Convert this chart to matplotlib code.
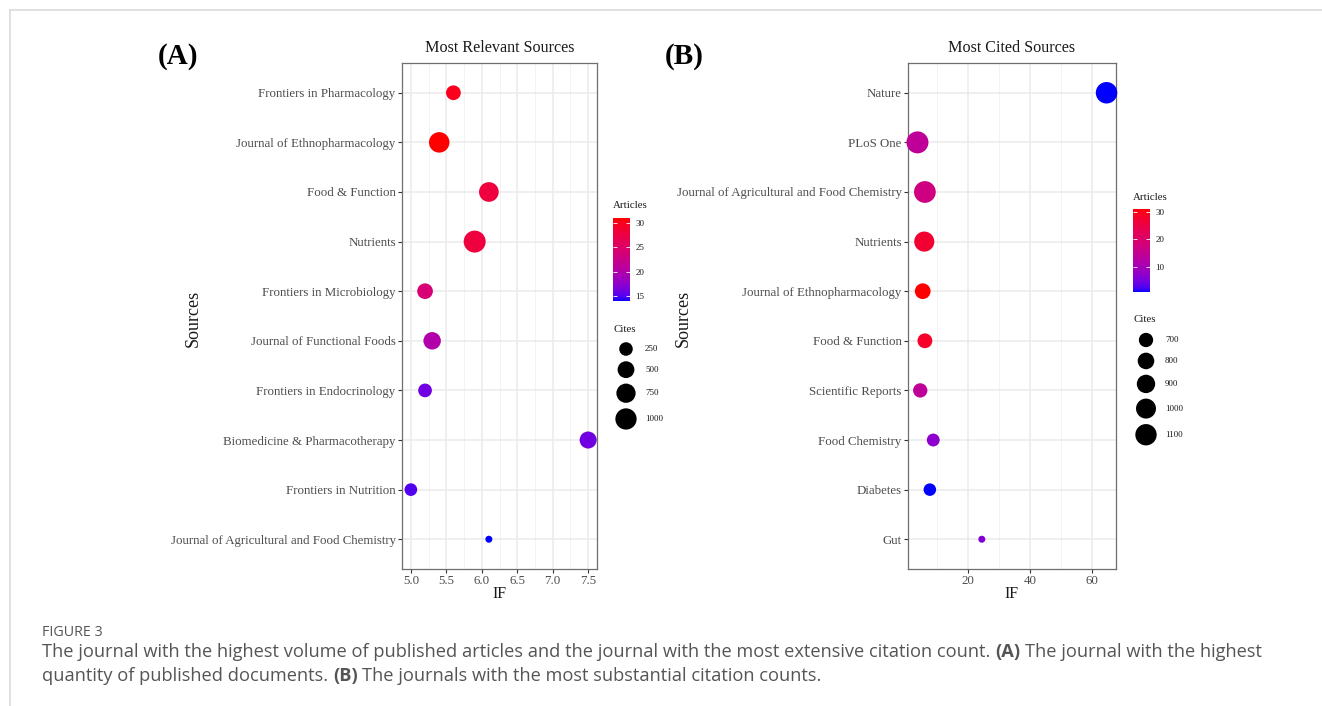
import numpy as np
import matplotlib
matplotlib.use("Agg")
import matplotlib.pyplot as plt
from matplotlib.colors import ListedColormap, Normalize
from matplotlib.ticker import MultipleLocator, FormatStrFormatter

W, H = 1322, 706

# (A) most relevant sources, top to bottom
sources_a = ["Frontiers in Pharmacology", "Journal of Ethnopharmacology", "Food & Function",
             "Nutrients", "Frontiers in Microbiology", "Journal of Functional Foods",
             "Frontiers in Endocrinology", "Biomedicine & Pharmacotherapy",
             "Frontiers in Nutrition", "Journal of Agricultural and Food Chemistry"]
if_a = [5.6, 5.4, 6.1, 5.9, 5.2, 5.3, 5.2, 7.5, 5.0, 6.1]
articles_a = [30, 31, 28, 28, 24, 20, 16, 16, 15, 14]
cites_a = [330, 900, 800, 1100, 400, 560, 260, 520, 200, 50]
cite_breaks_a = [250, 500, 750, 1000]
art_breaks_a = [15, 20, 25, 30]

# (B) most cited sources, top to bottom
sources_b = ["Nature", "PLoS One", "Journal of Agricultural and Food Chemistry", "Nutrients",
             "Journal of Ethnopharmacology", "Food & Function", "Scientific Reports",
             "Food Chemistry", "Diabetes", "Gut"]
if_b = [64.8, 3.7, 6.1, 5.9, 5.4, 6.1, 4.6, 8.8, 7.7, 24.5]
articles_b = [1, 14, 17, 27, 31, 28, 14, 7, 1, 6]
cites_b = [1110, 1150, 1130, 1010, 760, 720, 700, 650, 640, 560]
cite_breaks_b = [700, 800, 900, 1000, 1100]
art_breaks_b = [10, 20, 30]

plt.rcParams['font.family'] = ['Liberation Serif', 'DejaVu Serif']


# ggplot-like blue -> red gradient, interpolated in Lab
def to_lab(rgb):
    rgb = np.asarray(rgb, float)
    c = np.where(rgb <= 0.04045, rgb / 12.92, ((rgb + 0.055) / 1.055) ** 2.4)
    M = np.array([[0.4124, 0.3576, 0.1805], [0.2126, 0.7152, 0.0722], [0.0193, 0.1192, 0.9505]])
    xyz = M @ c / np.array([0.95047, 1.0, 1.08883])
    f = np.where(xyz > 0.008856, np.cbrt(xyz), 7.787 * xyz + 16 / 116)
    return np.array([116 * f[1] - 16, 500 * (f[0] - f[1]), 200 * (f[1] - f[2])])


def from_lab(lab):
    L, a, b = lab
    fy = (L + 16) / 116
    fx = fy + a / 500
    fz = fy - b / 200
    f = np.array([fx, fy, fz])
    xyz = np.where(f ** 3 > 0.008856, f ** 3, (f - 16 / 116) / 7.787) * np.array([0.95047, 1.0, 1.08883])
    Mi = np.array([[3.2406, -1.5372, -0.4986], [-0.9689, 1.8758, 0.0415], [0.0557, -0.2040, 1.0570]])
    c = np.clip(Mi @ xyz, 0, 1)
    return np.where(c <= 0.0031308, 12.92 * c, 1.055 * c ** (1 / 2.4) - 0.055).clip(0, 1)


lab_lo, lab_hi = to_lab([0, 0, 1]), to_lab([1, 0, 0])
cmap = ListedColormap([from_lab(lab_lo + t * (lab_hi - lab_lo)) for t in np.linspace(0, 1, 256)])


def diam(v, vals):
    lo, hi = min(vals), max(vals)
    return 7 + 15 * np.sqrt((np.asarray(v, float) - lo) / (hi - lo))


fig = plt.figure(figsize=(W / 100, H / 100), dpi=100)
ov = fig.add_axes([0, 0, 1, 1])
ov.set_xlim(0, W)
ov.set_ylim(H, 0)
ov.axis('off')


def px_axes(x0, y0, x1, y1):
    return fig.add_axes([x0 / W, 1 - y1 / H, (x1 - x0) / W, (y1 - y0) / H])


def panel(rect, names, ifs, arts, cites, major, minor, fmt, title):
    ax = px_axes(*rect)
    y = np.arange(len(names))
    ax.scatter(ifs, y, s=(diam(cites, cites) * 0.72) ** 2, c=arts, cmap=cmap,
               norm=Normalize(min(arts), max(arts)), edgecolors='none', zorder=3, clip_on=False)
    ax.set_yticks(y)
    ax.set_yticklabels(names)
    ax.set_ylim(len(names) - 0.4, -0.6)
    lo, hi = min(ifs), max(ifs)
    pad = 0.05 * (hi - lo)
    ax.set_xlim(lo - pad, hi + pad)
    ax.xaxis.set_major_locator(MultipleLocator(major))
    ax.xaxis.set_minor_locator(MultipleLocator(minor))
    ax.xaxis.set_major_formatter(FormatStrFormatter(fmt))
    ax.grid(which='major', color='#EBEBEB', lw=1.1)
    ax.grid(which='minor', axis='x', color='#F3F3F3', lw=0.7)
    ax.set_axisbelow(True)
    for sp in ax.spines.values():
        sp.set_color('#6E6E6E')
        sp.set_linewidth(0.9)
    ax.tick_params(which='major', length=3, width=0.8, color='#333333', labelsize=9.3,
                   labelcolor='#4D4D4D', pad=1.5)
    ax.tick_params(which='minor', length=0)
    cx = (rect[0] + rect[2]) / 2
    ov.text(cx, 48, title, ha='center', va='center', fontsize=11.6, color='#1A1A1A')
    ov.text(cx, 594, "IF", ha='center', va='center', fontsize=11.5, color='#1A1A1A')
    return ax


def legends(x0, art_top, arts, art_breaks, cites, cite_breaks):
    # colour bar
    bar = (x0, art_top + 12, x0 + 17, art_top + 95)
    cax = px_axes(*bar)
    lo, hi = min(arts), max(arts)
    cax.imshow(np.linspace(hi, lo, 200)[:, None], cmap=cmap, aspect='auto',
               extent=(0, 1, lo, hi), vmin=lo, vmax=hi)
    cax.set_xlim(0, 1)
    cax.set_ylim(lo, hi)
    cax.set_xticks([])
    cax.set_yticks(art_breaks)
    cax.yaxis.tick_right()
    cax.tick_params(axis='y', direction='in', length=3, width=0.6, color='white',
                    labelsize=6.5, labelcolor='#1A1A1A', pad=4, left=True, right=True)
    for sp in cax.spines.values():
        sp.set_visible(False)
    ov.text(x0, art_top, "Articles", ha='left', va='center', fontsize=7.8, color='#1A1A1A')

    # size keys
    top = art_top + 123
    ov.text(x0, top, "Cites", ha='left', va='center', fontsize=7.8, color='#1A1A1A')
    d = diam(cite_breaks, cites)
    yk = top + 20
    for i, (b, di) in enumerate(zip(cite_breaks, d)):
        if i > 0:
            yk += (d[i - 1] + di) / 2 + 5.5
        ov.scatter([x0 + 13], [yk], s=(di * 0.72) ** 2, color='black', edgecolors='none')
        ov.text(x0 + 32, yk, str(b), ha='left', va='center', fontsize=6.5, color='#1A1A1A')


panel((402, 63, 597, 569), sources_a, if_a, articles_a, cites_a, 0.5, 0.25, '%.1f',
      "Most Relevant Sources")
panel((908, 63, 1116, 569), sources_b, if_b, articles_b, cites_b, 20, 10, '%d',
      "Most Cited Sources")
legends(613, 206, articles_a, art_breaks_a, cites_a, cite_breaks_a)
legends(1133, 197, articles_b, art_breaks_b, cites_b, cite_breaks_b)

for x, label in [(193, "Sources"), (683, "Sources")]:
    ov.text(x, 318, label, rotation=90, ha='center', va='center', fontsize=13, color='#1A1A1A')
ov.text(158, 57, "(A)", ha='left', va='center', fontsize=21, fontweight='bold', color='black')
ov.text(665, 57, "(B)", ha='left', va='center', fontsize=21, fontweight='bold', color='black')

# page frame
ov.plot([10, W], [10, 10], color='#DADADA', lw=1.2, clip_on=False)
ov.plot([10, 10], [10, H], color='#DADADA', lw=1.2, clip_on=False)

# caption
cap = dict(family=['Open Sans', 'DejaVu Sans'], color='#555555', va='center', ha='left')
ov.text(42, 632, "FIGURE 3", fontsize=10.3, **cap)
renderer = fig.canvas.get_renderer()


def rich_line(x, y, parts, size):
    sp = ov.text(0, 0, "x x", fontsize=size, **cap)
    nsp = ov.text(0, 0, "xx", fontsize=size, **cap)
    gap = sp.get_window_extent(renderer).width - nsp.get_window_extent(renderer).width
    sp.remove()
    nsp.remove()
    for i, (s, bold) in enumerate(parts):
        t = ov.text(x, y, s, fontsize=size, fontweight='bold' if bold else 'normal', **cap)
        x += t.get_window_extent(renderer).width + gap


rich_line(42, 652, [("The journal with the highest volume of published articles and the journal "
                     "with the most extensive citation count.", False), ("(A)", True),
                    ("The journal with the highest", False)], 13.15)
rich_line(42, 676, [("quantity of published documents.", False), ("(B)", True),
                    ("The journals with the most substantial citation counts.", False)], 13.15)

fig.savefig("out.png", dpi=100)
